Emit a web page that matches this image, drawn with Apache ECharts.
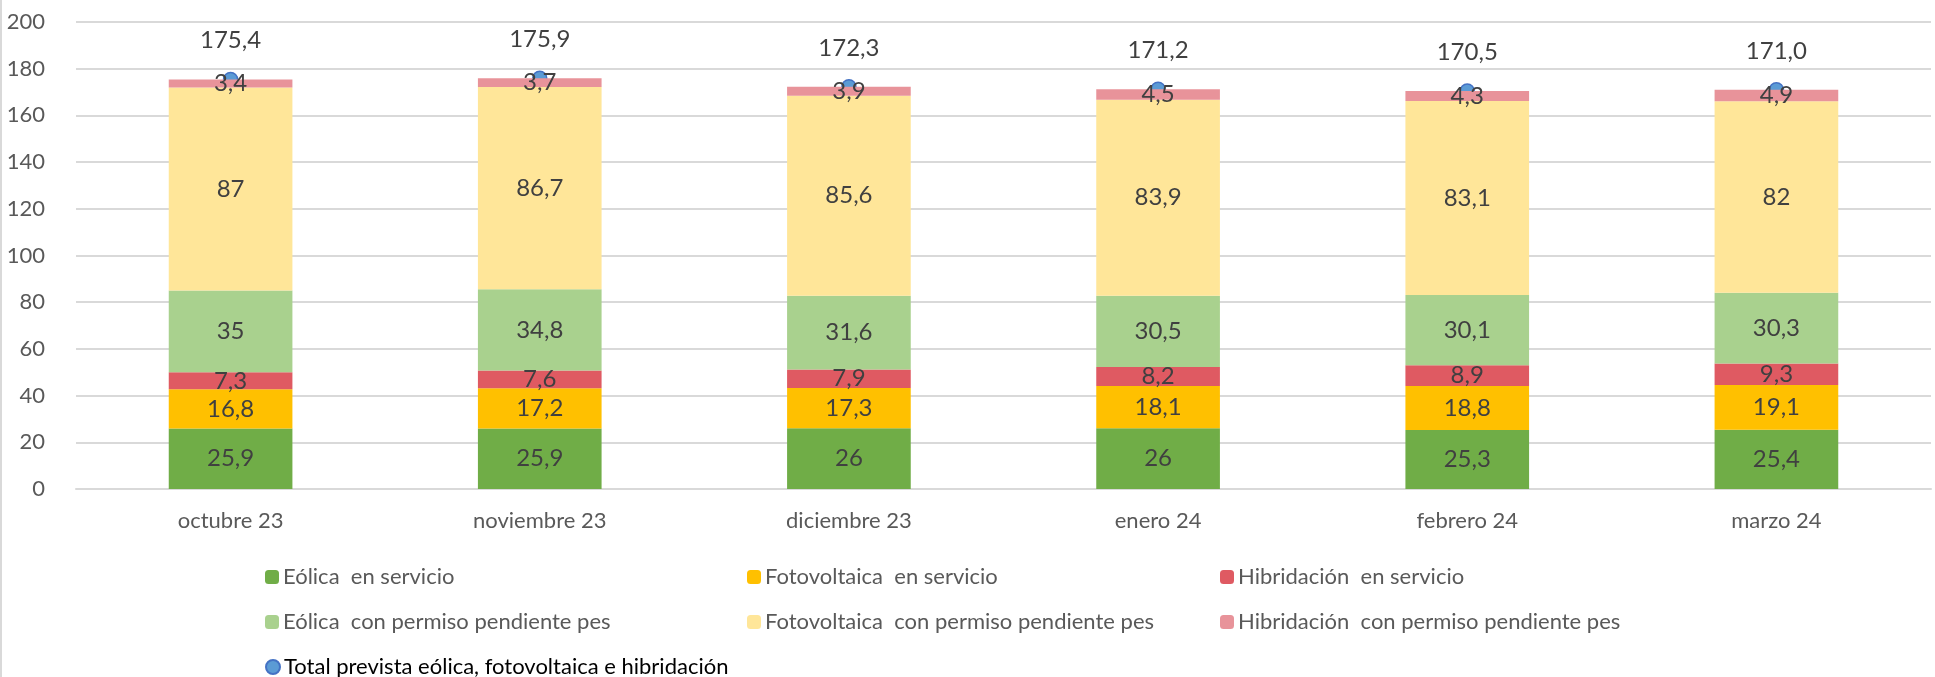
<!DOCTYPE html>
<html>
<head>
<meta charset="utf-8">
<script src="https://cdn.jsdelivr.net/npm/echarts@6/dist/echarts.min.js"></script>
<style>
	html, body { margin: 0; padding: 0; background: #fff; }
	#chart { width: 1935px; height: 677px; }
</style>
</head>
<body>
<div id="chart"></div>
<script>
	const meses = ['octubre 23', 'noviembre 23', 'diciembre 23', 'enero 24', 'febrero 24', 'marzo 24'];
	const eolicaServicio = [25.9, 25.9, 26, 26, 25.3, 25.4];
	const fotoServicio = [16.8, 17.2, 17.3, 18.1, 18.8, 19.1];
	const hibridServicio = [7.3, 7.6, 7.9, 8.2, 8.9, 9.3];
	const eolicaPendiente = [35, 34.8, 31.6, 30.5, 30.1, 30.3];
	const fotoPendiente = [87, 86.7, 85.6, 83.9, 83.1, 82];
	const hibridPendiente = [3.4, 3.7, 3.9, 4.5, 4.3, 4.9];
	const totalPrevista = [175.4, 175.9, 172.3, 171.2, 170.5, 171.0];

	const FONT = 'Lato, "Noto Sans", sans-serif';
	const TXT = '#404040';

	function coma(v) {
		return String(v).replace('.', ',');
	}

	function barra(name, data, color) {
		return {
			name: name,
			type: 'bar',
			stack: 'total',
			data: data,
			barWidth: '40%',
			itemStyle: { color: color },
			label: {
				show: true,
				position: 'inside',
				color: TXT,
				fontFamily: FONT,
				fontSize: 24,
				formatter: p => coma(p.value)
			}
		};
	}

	// una leyenda por entrada, colocada en rejilla de 3 columnas
	function leyenda(name, left, top, circulo) {
		return {
			left: left,
			top: top,
			itemWidth: 14,
			itemHeight: 14,
			itemGap: 0,
			textStyle: { color: circulo ? '#000' : '#595959', fontFamily: FONT, fontSize: 22, padding: [0, 0, 0, -1] },
			data: [circulo ? { name: name, icon: 'circle' } : name]
		};
	}

	let chart = echarts.init(document.getElementById('chart'));
	const option = {
		animation: false,
		grid: { left: 76, right: 4, top: 22, bottom: 188 },
		legend: [
			leyenda('Eólica  en servicio', 260, 561),
			leyenda('Fotovoltaica  en servicio', 742, 561),
			leyenda('Hibridación  en servicio', 1215, 561),
			leyenda('Eólica  con permiso pendiente pes', 260, 606),
			leyenda('Fotovoltaica  con permiso pendiente pes', 742, 606),
			leyenda('Hibridación  con permiso pendiente pes', 1215, 606),
			leyenda('Total prevista eólica, fotovoltaica e hibridación', 260, 651, true)
		],
		xAxis: {
			type: 'category',
			data: meses,
			axisLine: { lineStyle: { color: '#d9d9d9', width: 2 } },
			axisTick: { show: false },
			axisLabel: { color: '#595959', fontFamily: FONT, fontSize: 22, margin: 21 }
		},
		yAxis: {
			type: 'value',
			min: 0,
			max: 200,
			interval: 20,
			axisLine: { show: false },
			axisTick: { show: false },
			splitLine: { lineStyle: { color: '#d9d9d9', width: 2 } },
			axisLabel: { color: '#595959', fontFamily: FONT, fontSize: 22, margin: 31 }
		},
		graphic: [{
			type: 'line',
			shape: { x1: 1, y1: 0, x2: 1, y2: 677 },
			style: { stroke: '#d9d9d9', lineWidth: 2 }
		}],
		series: [
			barra('Eólica  en servicio', eolicaServicio, '#70AD47'),
			barra('Fotovoltaica  en servicio', fotoServicio, '#FFC000'),
			barra('Hibridación  en servicio', hibridServicio, '#DF5A62'),
			barra('Eólica  con permiso pendiente pes', eolicaPendiente, '#A9D18E'),
			barra('Fotovoltaica  con permiso pendiente pes', fotoPendiente, '#FFE699'),
			barra('Hibridación  con permiso pendiente pes', hibridPendiente, '#E8939A'),
			{
				name: 'Total prevista eólica, fotovoltaica e hibridación',
				type: 'line',
				data: totalPrevista,
				symbol: 'circle',
				symbolSize: 14,
				z: 1,
				lineStyle: { opacity: 0 },
				itemStyle: { color: '#5B9BD5', borderColor: '#4472C4', borderWidth: 1.5 },
				label: {
					show: true,
					position: 'top',
					distance: 19,
					color: TXT,
					fontFamily: FONT,
					fontSize: 24,
					formatter: p => p.value.toFixed(1).replace('.', ',')
				}
			}
		]
	};
	chart.setOption(option);
	window.addEventListener('resize', () => {
		chart.resize();
	});
</script>
</body>
</html>
